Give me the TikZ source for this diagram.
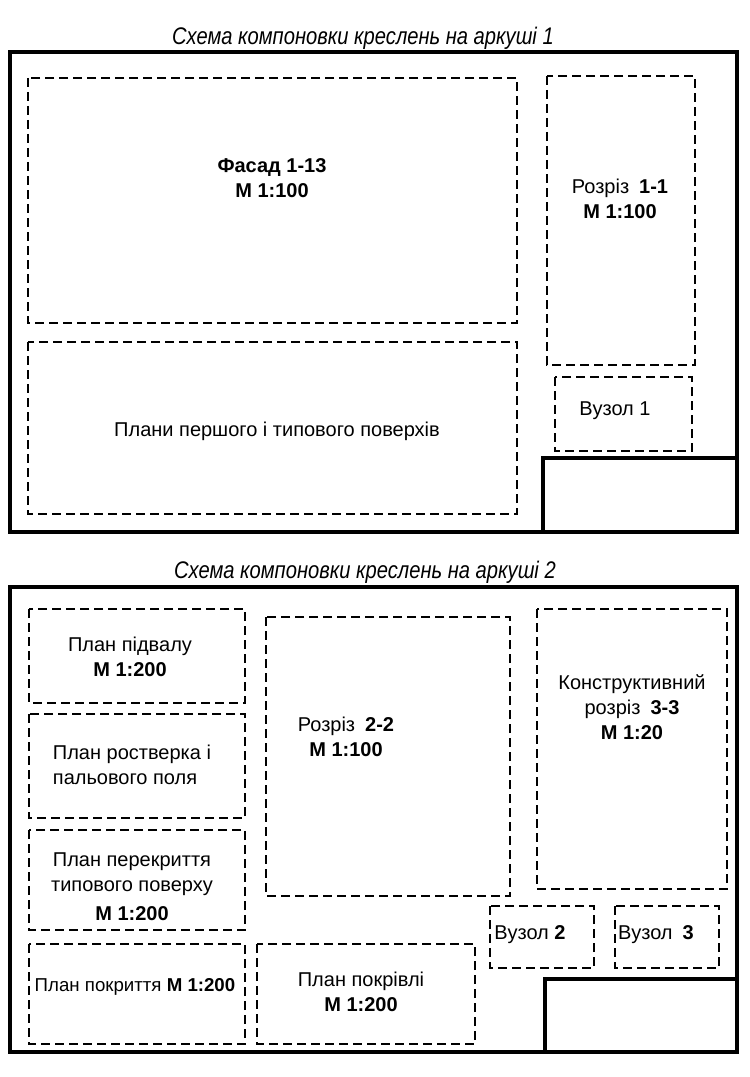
\documentclass[tikz,border=0pt]{standalone}
\usepackage{fontspec}
\setmainfont{Liberation Sans}
\newfontfamily\capfont[FakeStretch=0.84]{Liberation Sans}
\usetikzlibrary{positioning}

\begin{document}
\begin{tikzpicture}[
  x=0.75pt, y=-0.75pt,
  sheet/.style={draw, line width=3.2pt},
  zone/.style={draw, line width=1.5pt, dash pattern=on 6.75pt off 3.75pt},
  lbl/.style={align=center, inner sep=0pt, font=\fontsize{15}{18.8}\selectfont},
  caption/.style={inner sep=0pt, font=\capfont\itshape\fontsize{18}{20}\selectfont}
]
\useasboundingbox (0,0) rectangle (749,1077);

% sheet 1
\node[caption] (title1) at (363,38) {Схема компоновки креслень на аркуші 1};
\draw[sheet] (10,52) rectangle (737,532);
\draw[sheet] (543,532) |- (737,458);
\draw[zone] (28,78) rectangle (517,323);
\draw[zone] (28,342) rectangle (517,514);
\draw[zone] (547,76) rectangle (695,365);
\draw[zone] (555,377) rectangle (692,451);
\node[lbl] (facade) at (272,178) {\textbf{Фасад 1-13}\\\textbf{М 1:100}};
\node[lbl] (plans) at (277,431) {Плани першого і типового поверхів};
\node[lbl] (cut1) at (620,199) {Розріз\enspace\textbf{1-1}\\\textbf{М 1:100}};
\node[lbl] (knot1) at (615,411) {Вузол 1};

% sheet 2
\node[caption] (title2) at (365,572) {Схема компоновки креслень на аркуші 2};
\draw[sheet] (10,587) rectangle (737,1052);
\draw[sheet] (545,1052) |- (737,979);
\draw[zone] (29,609) rectangle (245,703);
\draw[zone] (29,714) rectangle (245,818);
\draw[zone] (29,830) rectangle (245,930);
\draw[zone] (29,944) rectangle (245,1044);
\draw[zone] (266,617) rectangle (510,896);
\draw[zone] (537,609) rectangle (727,889);
\draw[zone] (257,944) rectangle (475,1044);
\draw[zone] (490,906) rectangle (594,968);
\draw[zone] (615,906) rectangle (719,968);
\node[lbl] (basement) at (130,657) {План підвалу\\\textbf{М 1:200}};
\node[lbl, align=left] (grillage) at (132,765) {План ростверка і\\пальового поля};
\node[lbl] (floor) at (132,887) {План перекриття\\типового поверху\\[3pt]\textbf{М 1:200}};
\node[lbl, font=\fontsize{14}{17}\selectfont] (covering) at (135,987) {План покриття \textbf{М 1:200}};
\node[lbl] (cut2) at (346,737) {Розріз\enspace\textbf{2-2}\\\textbf{М 1:100}};
\node[lbl] (cut3) at (632,707) {Конструктивний\\розріз\enspace\textbf{3-3}\\\textbf{М 1:20}};
\node[lbl] (knot2) at (530,935) {Вузол \textbf{2}};
\node[lbl] (knot3) at (656,935) {Вузол\enspace\textbf{3}};
\node[lbl] (roof) at (361,992) {План покрівлі\\\textbf{М 1:200}};
\end{tikzpicture}
\end{document}
